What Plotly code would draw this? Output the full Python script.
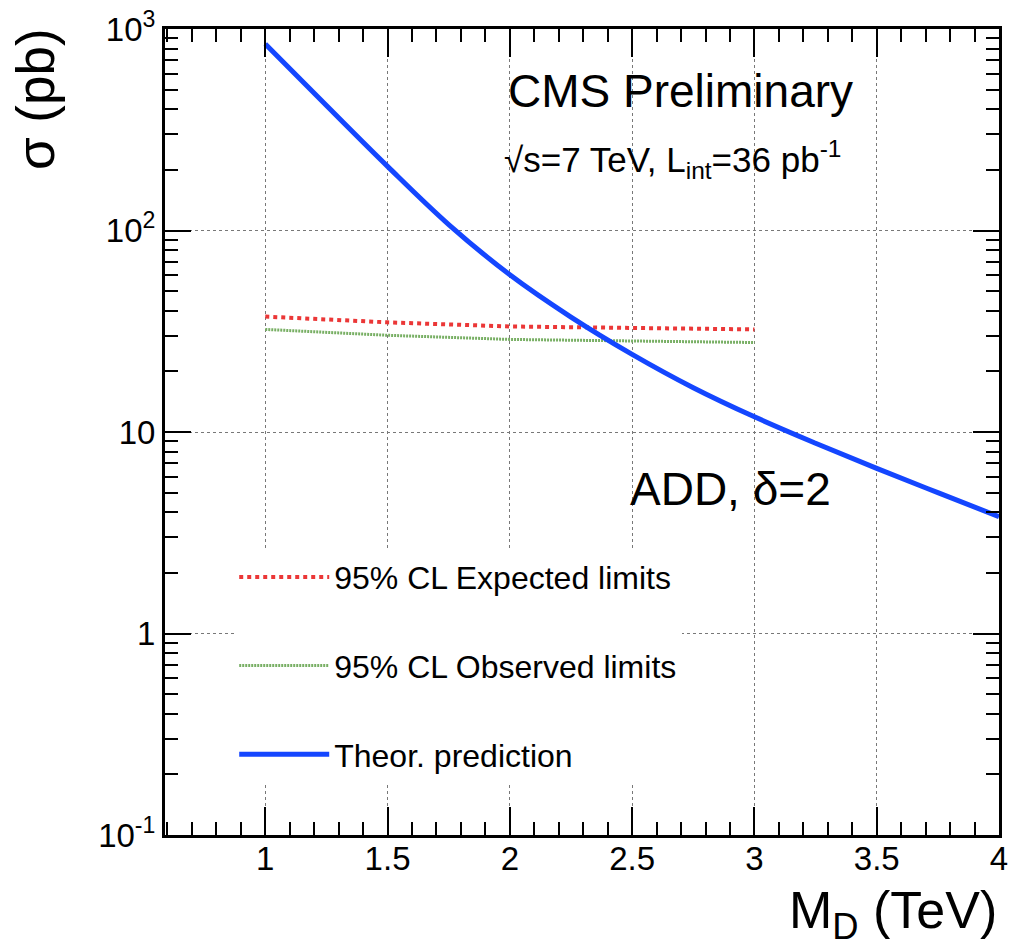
import plotly.graph_objects as go

# Data
md_theory = [1.0, 1.25, 1.5, 1.75, 2.0, 2.25, 2.5, 2.75, 3.0, 3.25, 3.5, 3.75, 4.0]
sigma_theory = [843, 417, 208, 107, 60.3, 37.2, 24.3, 16.6, 11.9, 8.8, 6.6, 5.0, 3.8]
md_limits = [1.0, 1.5, 2.0, 2.5, 3.0]
sigma_expected = [37.4, 35.0, 33.4, 32.7, 32.3]
sigma_observed = [32.3, 30.2, 28.8, 28.2, 27.8]

x_major = [1, 1.5, 2, 2.5, 3, 3.5, 4]
x_major_text = ["1", "1.5", "2", "2.5", "3", "3.5", "4"]
x_minor = [round(0.6 + 0.1 * i, 2) for i in range(35)]
y_major = [0.1, 1, 10, 100, 1000]
y_major_text = ["10<sup>-1</sup>", "1", "10", "10<sup>2</sup>", "10<sup>3</sup>"]
y_minor = [m * 10 ** e for e in range(-1, 3) for m in range(2, 10)]

FONT = "Liberation Sans, Arial, Helvetica, sans-serif"

fig = go.Figure()
fig.add_trace(go.Scatter(
    x=md_limits, y=sigma_expected, mode="lines", name="95% CL Expected limits",
    line=dict(color="rgb(235,55,55)", width=4, dash="dot"), legendgroup="a"))
fig.add_trace(go.Scatter(
    x=md_limits, y=sigma_observed, mode="lines", name="95% CL Observed limits",
    line=dict(color="rgb(120,175,100)", width=3, dash="2px,1px"), legendgroup="b"))
fig.add_trace(go.Scatter(
    x=md_theory, y=sigma_theory, mode="lines", name="Theor. prediction",
    line=dict(color="rgb(20,70,255)", width=5, shape="spline"), legendgroup="c"))

axis_common = dict(
    showline=True, linecolor="black", linewidth=3, mirror="allticks",
    ticks="inside", tickcolor="black", tickwidth=2,
    showgrid=True, gridcolor="rgb(120,120,120)", griddash="dot", gridwidth=1,
    zeroline=False, tickfont=dict(family=FONT, size=33, color="black"),
    ticklabeloverflow="allow",
)

fig.update_layout(
    width=1014, height=948,
    margin=dict(l=165, r=6, t=25, b=113),
    paper_bgcolor="white", plot_bgcolor="white",
    font=dict(family=FONT, color="black"),
    xaxis=dict(axis_common, range=[0.59, 4.0], tickmode="array", tickvals=x_major,
               ticktext=x_major_text, ticklen=28, ticklabelstandoff=-8,
               minor=dict(tickmode="array", tickvals=x_minor, ticks="inside", ticklen=13,
                          tickcolor="black", tickwidth=2, showgrid=False)),
    yaxis=dict(axis_common, type="log", range=[-1, 3], tickmode="array", tickvals=y_major,
               ticktext=y_major_text, ticklen=26,
               minor=dict(tickmode="array", tickvals=y_minor, ticks="inside", ticklen=13,
                          tickcolor="black", tickwidth=2, showgrid=False)),
    legend=dict(x=0.083, y=0.354, xanchor="left", yanchor="top", bgcolor="white",
                font=dict(family=FONT, size=32, color="black"), tracegroupgap=44,
                itemwidth=90),
    showlegend=True,
)

fig.add_annotation(text="CMS Preliminary", xref="paper", yref="paper", x=0.618, y=0.923,
                   xanchor="center", yanchor="middle", showarrow=False,
                   font=dict(family=FONT, size=46, color="black"))
fig.add_annotation(text="√s=7 TeV, L<sub>int</sub>=36 pb<sup>-1</sup>", xref="paper", yref="paper",
                   x=0.609, y=0.838, xanchor="center", yanchor="middle", showarrow=False,
                   font=dict(family=FONT, size=35, color="black"))
fig.add_annotation(text="ADD, δ=2", xref="paper", yref="paper", x=0.678, y=0.429,
                   xanchor="center", yanchor="middle", showarrow=False,
                   font=dict(family=FONT, size=46, color="black"))
fig.add_annotation(text="M<sub>D</sub> (TeV)", xref="paper", yref="paper", x=1.0, y=-0.054,
                   xanchor="right", yanchor="top", showarrow=False,
                   font=dict(family=FONT, size=52, color="black"))
fig.add_annotation(text="σ (pb)", xref="paper", yref="paper", x=-0.193, y=1.003,
                   xanchor="left", yanchor="top", textangle=-90, showarrow=False,
                   font=dict(family=FONT, size=53, color="black"))

fig.write_html("out.html")
